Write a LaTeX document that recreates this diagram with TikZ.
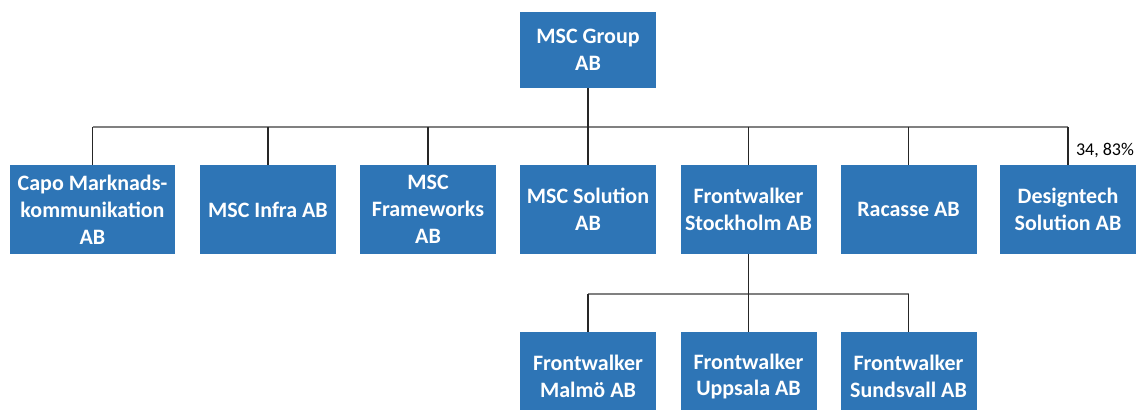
\documentclass[tikz,border=0pt]{standalone}
\usepackage{fontspec}
\setmainfont{Carlito}
\usetikzlibrary{positioning}
\definecolor{boxblue}{RGB}{46,117,182}

\begin{document}
\begin{tikzpicture}[
  x=0.5pt, y=-0.5pt,
    company/.style={
        fill=boxblue,
        text=white,
        font=\fontsize{11}{13.4}\selectfont\bfseries,
        align=center,
        inner sep=2pt,
        minimum width=68pt,
        minimum height=44.5pt
    },
    link/.style={
        draw=black!85,
        line width=0.6pt
    },
    busline/.style={
        draw=black!50,
        line width=1pt
    }
]
\clip (0,0) rectangle (1136,410);

\node[company, minimum height=38pt] (group) at (588,50)
{MSC Group\\AB};

\node[company, minimum width=82.5pt] (capo) at (92.5,209.5)
{Capo Marknads-\\kommunikation\\AB};

\node[company] (infra) at (268,209.5)
{MSC Infra AB};

\node[company] (frame) at (428,209.5)
{MSC\\Frameworks\\AB};

\node[company] (solution) at (588,209.5)
{MSC Solution\\AB};

\node[company] (sthlm) at (748.5,209.5)
{Frontwalker\\Stockholm AB};

\node[company] (racasse) at (908.5,209.5)
{Racasse AB};

\node[company] (design) at (1068,209.5)
{Designtech\\Solution AB};

\node[company] (malmo) at (588,376.5)
{Frontwalker\\Malmö AB};

\node[company] (uppsala) at (748.5,376.5)
{Frontwalker\\Uppsala AB};

\node[company] (sundsvall) at (908.5,376.5)
{Frontwalker\\Sundsvall AB};

\node[font=\fontsize{9}{11}\selectfont, inner sep=0pt] (share) at (1105,151)
{34, 83\%};

\coordinate (bus) at (588,127);
\coordinate (subbus) at (748.5,294);

\draw[busline] (bus -| capo.north) -- (bus -| design.north);
\draw[link] (group.south) -- (group.south |- bus);
\foreach \c in {capo,infra,frame,solution,sthlm,racasse,design}
  \draw[link] (bus -| \c.north) -- (\c.north);

\draw[busline] (subbus -| malmo.north) -- (subbus -| sundsvall.north);
\draw[link] (sthlm.south) -- (sthlm.south |- subbus);
\foreach \c in {malmo,uppsala,sundsvall}
  \draw[link] (subbus -| \c.north) -- (\c.north);

\end{tikzpicture}
\end{document}
